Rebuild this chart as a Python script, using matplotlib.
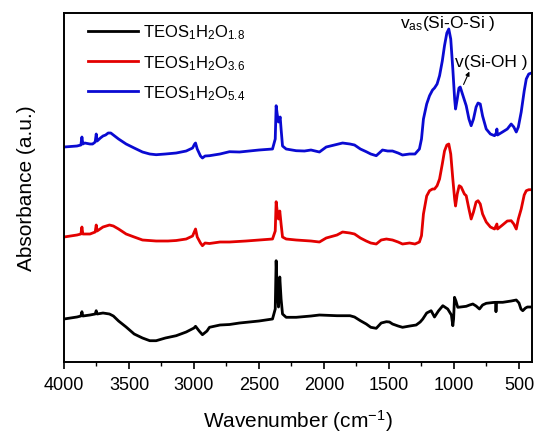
import matplotlib
matplotlib.use('Agg')
import matplotlib.pyplot as plt
import numpy as np

plt.rcParams['font.family'] = ['Liberation Sans', 'DejaVu Sans']
plt.rcParams['mathtext.fontset'] = 'custom'
plt.rcParams['mathtext.rm'] = 'Liberation Sans'
plt.rcParams['mathtext.it'] = 'Liberation Sans'

# wavenumber (cm-1) and absorbance (a.u., offset)
wn_blue = [4000, 3950, 3900, 3870, 3862, 3855, 3840, 3800, 3780, 3760, 3752, 3745, 3720, 3700,
           3680, 3660, 3640, 3620, 3580, 3522, 3460, 3396, 3340, 3291, 3220, 3137, 3060, 3011,
           2995, 2988, 2975, 2950, 2935, 2915, 2881, 2800, 2727, 2650, 2500, 2396, 2375, 2368,
           2360, 2350, 2337, 2330, 2319, 2291, 2214, 2150, 2100, 2035, 1983, 1920, 1857, 1800,
           1765, 1720, 1675, 1640, 1598, 1575, 1550, 1510, 1473, 1430, 1396, 1342, 1300, 1266,
           1250, 1235, 1210, 1188, 1165, 1150, 1130, 1111, 1090, 1073, 1055, 1040, 1025, 1009,
           995, 988, 975, 962, 952, 935, 906, 885, 868, 850, 830, 815, 798, 780, 752, 720, 688,
           675, 670, 665, 627, 590, 560, 540, 521, 505, 483, 460, 444, 425, 404]
abs_blue = [215, 215.5, 216, 217, 225, 218, 219, 218, 218, 220, 228, 221, 224, 226,
            227, 229, 229, 227, 223, 218, 214, 210, 208, 207.3, 208, 209, 211, 214,
            218, 219, 213, 206, 204, 206, 206.3, 208, 210.3, 210, 212, 213, 223, 256.3,
            248, 240, 245, 233, 216, 213, 211.3, 211, 212, 210, 215, 217, 219, 218,
            217, 213, 210.3, 208, 206.3, 209, 212, 211, 211, 209, 207, 208, 208, 213,
            223, 243, 258, 266.3, 272, 274, 278, 286.3, 301, 316.3, 329, 333, 323, 293,
            263, 253, 263, 274, 275, 268, 256.3, 243, 236.3, 243, 255, 259, 258, 246, 233, 228, 226.3,
            229, 233, 227, 230, 233, 238, 235, 230, 235, 250, 271, 283, 288, 289]

wn_red = [4000, 3950, 3900, 3870, 3862, 3855, 3800, 3760, 3752, 3745, 3700, 3650, 3620, 3580,
          3522, 3460, 3396, 3291, 3200, 3137, 3060, 3011, 2988, 2975, 2950, 2935, 2915, 2881,
          2800, 2727, 2600, 2396, 2375, 2368, 2360, 2350, 2340, 2330, 2319, 2291, 2214, 2100,
          2035, 1983, 1900, 1857, 1800, 1765, 1720, 1675, 1640, 1598, 1560, 1520, 1473, 1430,
          1396, 1342, 1300, 1266, 1250, 1235, 1210, 1188, 1165, 1150, 1130, 1111, 1090, 1073,
          1055, 1040, 1025, 1009, 995, 988, 975, 960, 945, 920, 906, 885, 868, 850, 830, 815,
          798, 780, 752, 720, 688, 670, 665, 627, 590, 560, 540, 521, 505, 483, 460, 444, 425, 404]
abs_red = [125, 126, 127, 128, 135, 128, 128, 130, 137, 131, 135, 137, 136, 133,
           128, 125, 122, 121, 121, 121.5, 123, 126, 133, 125, 119, 116.3, 119, 118.5,
           120, 120, 121, 123, 131, 160.3, 151, 143, 151, 138, 125, 123, 122, 121,
           120, 124, 127, 130, 129, 128, 124, 121, 119, 118, 122, 123, 122, 120,
           118, 119, 118, 120, 126.3, 148, 166, 171.3, 173, 173, 176.3, 183, 198, 211,
           217, 218, 208, 183, 163, 156, 168, 176.3, 175, 168, 166.3, 153, 143, 150, 160, 161.3,
           158, 148, 140, 135, 133, 138, 133, 137, 141, 141.3, 138, 133, 143, 153, 167, 171.3, 172.3, 172.3]

wn_black = [4000, 3950, 3900, 3870, 3862, 3855, 3800, 3760, 3752, 3745, 3700, 3650, 3620, 3580,
            3522, 3460, 3396, 3340, 3291, 3220, 3137, 3060, 3000, 2988, 2960, 2935, 2900, 2881,
            2800, 2727, 2650, 2500, 2396, 2375, 2368, 2360, 2350, 2340, 2330, 2319, 2291, 2214,
            2100, 2035, 1900, 1800, 1765, 1720, 1675, 1640, 1598, 1560, 1520, 1496, 1473, 1430,
            1396, 1340, 1291, 1260, 1240, 1210, 1176, 1150, 1120, 1086, 1048, 1020, 1009, 1003,
            996, 985, 971, 950, 906, 880, 855, 830, 804, 780, 752, 700, 680, 677, 673, 625, 560,
            521, 500, 485, 471, 450, 435, 404]
abs_black = [43, 44, 45, 46, 50.3, 46, 47, 48, 51.3, 48, 49, 48, 46, 41,
             35, 28, 24, 21.3, 21.3, 24, 26.3, 30, 34, 35.7, 31, 27.3, 31, 34.7,
             37, 37.5, 39, 41, 43, 53, 101.3, 73, 55, 85, 63, 48, 44.7, 44.7,
             46, 47, 46.3, 46.3, 45, 41.3, 38, 34.7, 33.7, 39, 40.3, 40, 38, 36,
             34.7, 36, 37, 40, 43, 49, 51.3, 45, 51, 56.3, 53, 47, 36.3, 43,
             64.7, 61, 54.7, 55, 55.7, 57, 58, 56, 53, 57, 58.7, 59.5, 59.7, 50.3, 59.7, 59.7, 61,
             62, 59, 53, 51.3, 54, 55, 55]

labels = ['TEOS$_1$H$_2$O$_{1.8}$', 'TEOS$_1$H$_2$O$_{3.6}$', 'TEOS$_1$H$_2$O$_{5.4}$']

fig = plt.figure(figsize=(5.39, 4.35), dpi=100)
ax = fig.add_axes([0.1187, 0.1655, 0.8683, 0.8023])

ax.plot(wn_black, abs_black, color='black', lw=2, label=labels[0])
ax.plot(wn_red, abs_red, color='#e30000', lw=2, label=labels[1])
ax.plot(wn_blue, abs_blue, color='#0a0ad2', lw=2, label=labels[2])

ax.set_xlim(4000, 400)
ax.set_ylim(0, 349)
ax.set_xticks([4000, 3500, 3000, 2500, 2000, 1500, 1000, 500])
ax.set_xticks(np.arange(3750, 400, -500), minor=True)
ax.set_yticks([])
ax.tick_params(axis='x', which='major', direction='out', length=5, width=1.2,
               labelsize=13, pad=5)
ax.tick_params(axis='x', which='minor', direction='out', length=3, width=1.0)
for s in ax.spines.values():
    s.set_linewidth(1.4)

ax.set_xlabel('Wavenumber (cm$^{-1}$)', fontsize=15, labelpad=10)
ax.set_ylabel('Absorbance (a.u.)', fontsize=15, labelpad=20)

ax.text(1419, 340, 'v$_{as}$(Si-O-Si )', fontsize=12.5, va='center', ha='left')
ax.text(996, 301, 'v(Si-OH )', fontsize=12.5, va='center', ha='left')
ax.annotate('', xy=(873, 293), xytext=(935, 275),
            arrowprops=dict(arrowstyle='-|>', color='black', lw=0.8, mutation_scale=6))

ax.legend(loc='upper left', bbox_to_anchor=(0.02, 1.015), frameon=False, fontsize=12,
          handlelength=3.0, labelspacing=0.68, handletextpad=0.3)

fig.savefig('out.png', dpi=100)
